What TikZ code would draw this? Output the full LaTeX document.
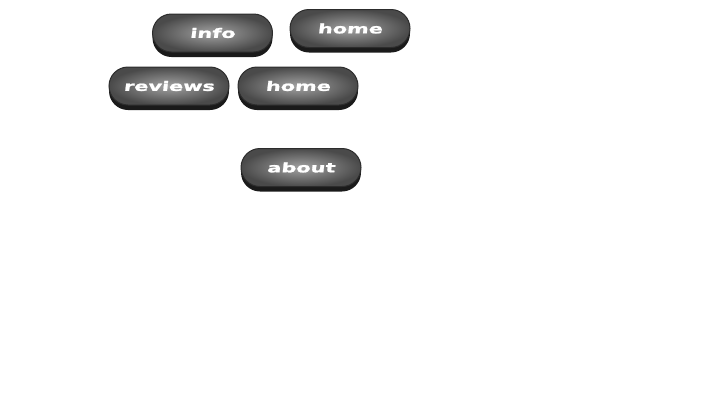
\documentclass[tikz,border=0pt]{standalone}
\usepackage{fontspec}
\usepackage{xcolor}
\usetikzlibrary{shadows}
\newfontfamily\btnfont[FakeStretch=1.6,FakeSlant=0.12,FakeBold=1.5]{DejaVu Sans Bold}
\definecolor{btnlight}{HTML}{A2A2A2}
\definecolor{btndark}{HTML}{4A4A4A}
\definecolor{btnrim}{HTML}{2C2C2C}
\definecolor{btnshadow}{HTML}{1A1A1A}

\begin{document}
\begin{tikzpicture}[x=1pt, y=-1pt,
    navbtn/.style={draw=btnrim, line width=1pt, rounded corners=19pt, minimum width=120pt, minimum height=38pt, inner sep=0pt, inner color=btnlight, outer color=btndark, text=white, font=\btnfont\fontsize{13}{13}\selectfont, drop shadow={shadow xshift=0pt, shadow yshift=-5pt, fill=btnshadow, opacity=1}}]
    \path[use as bounding box] (0, 0) rectangle (720, 405);
    \node[navbtn] (info) at (212.5, 33) {info};
    \node[navbtn] (homeA) at (350, 28.5) {home};
    \node[navbtn] (reviews) at (169, 86) {reviews};
    \node[navbtn] (homeB) at (298, 86) {home};
    \node[navbtn] (about) at (301, 167.5) {about};
  \end{tikzpicture}
\end{document}
